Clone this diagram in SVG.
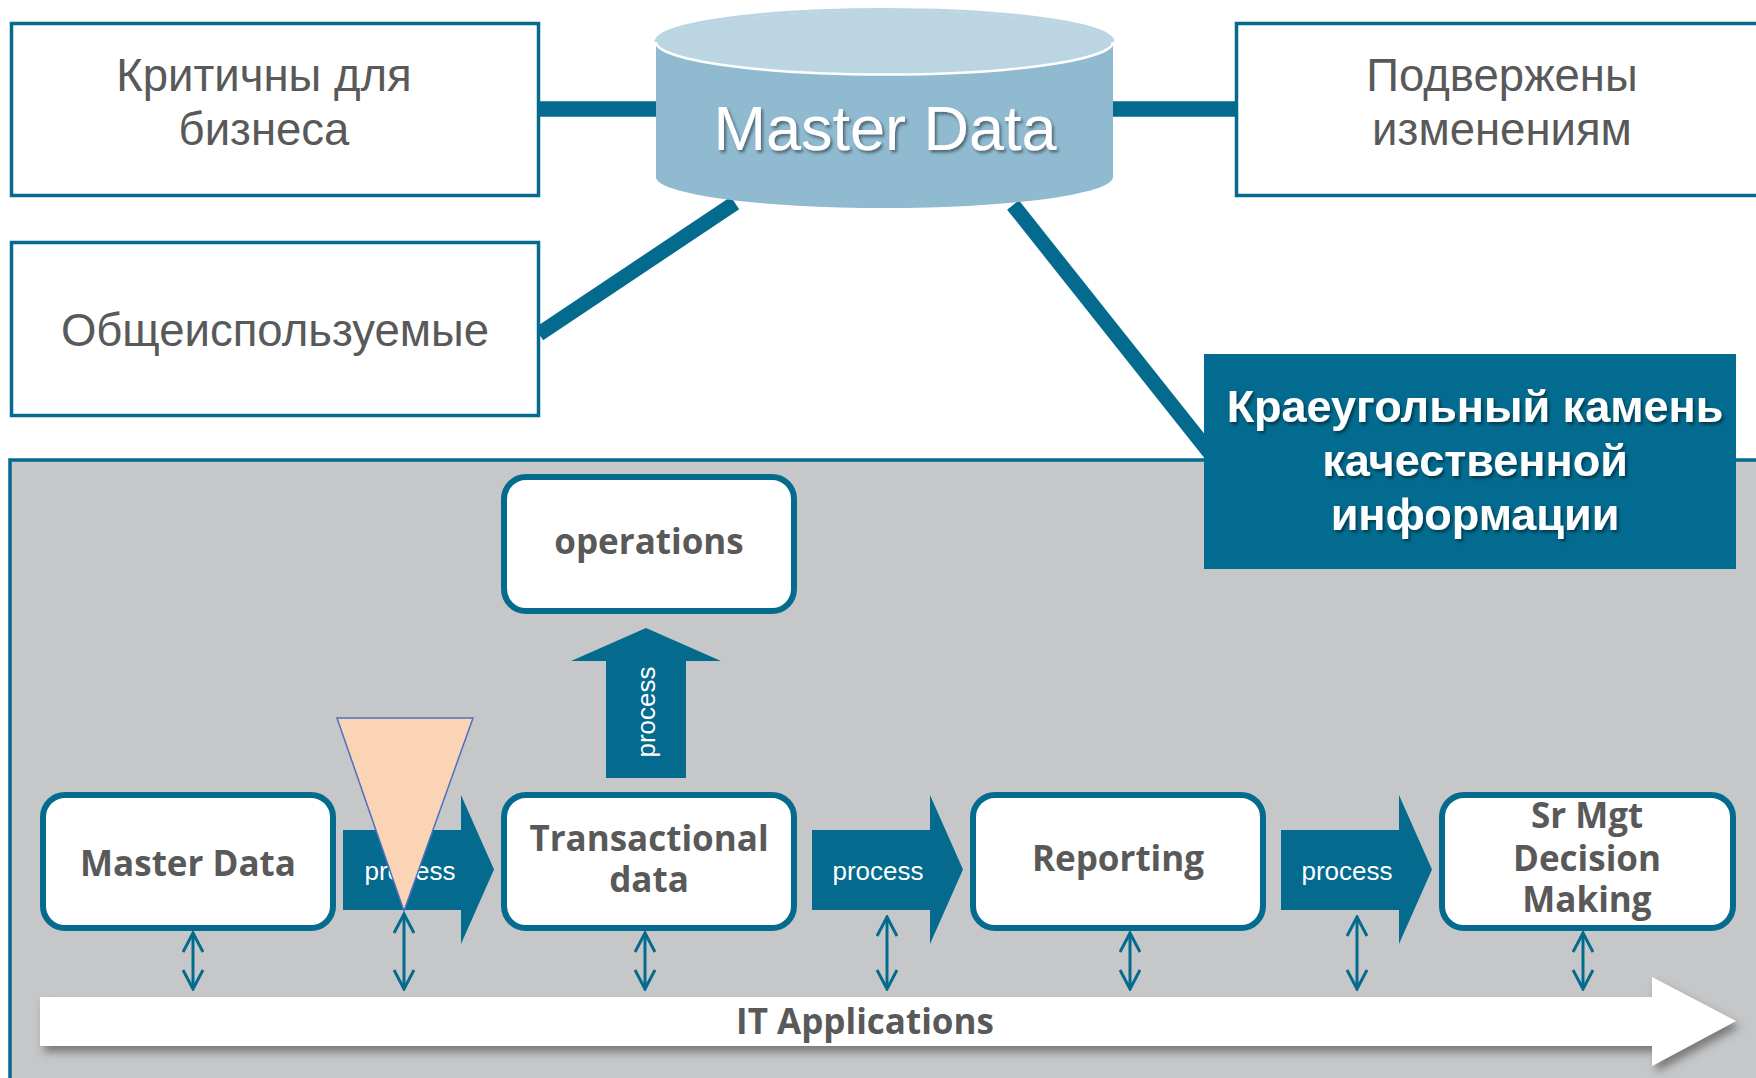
<svg xmlns="http://www.w3.org/2000/svg" width="1756" height="1078" viewBox="0 0 1756 1078">
<style>
.box{fill:#fff;stroke:#046A8E;stroke-width:3.5}
.rbox{fill:#fff;stroke:#046A8E;stroke-width:6}
.ttop{font-family:"Liberation Sans",Arial,sans-serif;font-size:45.5px;fill:#595959;text-anchor:middle}
.tb{font-family:"Open Sans","Liberation Sans",sans-serif;font-weight:bold;font-size:35px;fill:#595959;text-anchor:middle}
.tp{font-family:"Liberation Sans",Arial,sans-serif;font-size:26px;fill:#fff;text-anchor:middle}
.tw{font-family:"Liberation Sans",Arial,sans-serif;font-weight:bold;font-size:45px;fill:#fff;text-anchor:middle}
.conn{stroke:#046A8E;stroke-width:15;fill:none}
.teal{fill:#046A8E}
.dbl{stroke:#046A8E;stroke-width:3;fill:none}
</style>
<defs>
<marker id="v" viewBox="0 0 22 22" refX="20" refY="11" markerWidth="22" markerHeight="22" markerUnits="userSpaceOnUse" orient="auto-start-reverse">
<path d="M1,1 L20,11 L1,21" fill="none" stroke="#046A8E" stroke-width="3"/>
</marker>
<filter id="ts" x="-10%" y="-20%" width="120%" height="150%">
<feDropShadow dx="2" dy="2.5" stdDeviation="1.5" flood-color="#000" flood-opacity="0.45"/>
</filter>
<filter id="as" x="-5%" y="-30%" width="110%" height="180%">
<feDropShadow dx="4" dy="6" stdDeviation="4" flood-color="#444" flood-opacity="0.6"/>
</filter>
</defs>

<g id="connectors">
<line class="conn" x1="538" y1="109" x2="660" y2="109" style="stroke-width:15.5"/>
<line class="conn" x1="1108" y1="109" x2="1238" y2="109" style="stroke-width:15.5"/>
<line class="conn" x1="735" y1="203" x2="539" y2="334"/>
<line class="conn" x1="1013" y1="205" x2="1214" y2="458"/>
</g>

<g id="panel">
<rect x="10" y="460" width="1770" height="640" fill="#C6C7C9" stroke="#046A8E" stroke-width="3.5"/>
</g>

<g id="box-critical">
<rect class="box" x="11.5" y="23.5" width="527" height="172"/>
<text class="ttop" x="264" y="91">Критичны для</text>
<text class="ttop" x="264" y="145">бизнеса</text>
</g>

<g id="box-common">
<rect class="box" x="11.5" y="242.5" width="527" height="173"/>
<text class="ttop" x="275" y="346">Общеиспользуемые</text>
</g>

<g id="box-changes">
<rect class="box" x="1236.5" y="23.5" width="600" height="172"/>
<text class="ttop" x="1502" y="91">Подвержены</text>
<text class="ttop" x="1502" y="145">изменениям</text>
</g>

<g id="master-data-db">
<path d="M656,42 L656,177 A228.5,31 0 0 0 1113,177 L1113,42 Z" fill="#8FBAD0"/>
<ellipse cx="884.5" cy="42" rx="228.5" ry="32.5" fill="#BBD6E2" stroke="#fff" stroke-width="2.5"/>
<path d="M656,42 A228.5,32.5 0 0 1 1113,42" fill="none" stroke="#BBD6E2" stroke-width="3"/>
<text x="885" y="150" filter="url(#ts)" style="font-family:'Liberation Sans',Arial,sans-serif;font-size:63px;fill:#fff;text-anchor:middle">Master Data</text>
</g>

<g id="cornerstone">
<rect x="1204" y="354" width="532" height="215" fill="#036B8F"/>
<g filter="url(#ts)">
<text class="tw" x="1475" y="422">Краеугольный камень</text>
<text class="tw" x="1475" y="476">качественной</text>
<text class="tw" x="1475" y="530">информации</text>
</g>
</g>

<g id="operations">
<rect class="rbox" x="504" y="477" width="290" height="134" rx="22"/>
<text class="tb" x="649" y="554">operations</text>
</g>

<g id="arrow-up-process">
<polygon class="teal" points="606,778 606,661 571,661 646,628 721,661 686,661 686,778"/>
<text class="tp" transform="translate(655,712) rotate(-90)">process</text>
</g>

<g id="arrow-process-1">
<polygon class="teal" points="343,830 461,830 461,795 494,869.5 461,944 461,910 343,910"/>
<text class="tp" x="410" y="880">process</text>
</g>

<g id="arrow-process-2">
<polygon class="teal" points="812,830 930,830 930,795 963,869.5 930,944 930,910 812,910"/>
<text class="tp" x="878" y="880">process</text>
</g>

<g id="arrow-process-3">
<polygon class="teal" points="1281,830 1399,830 1399,795 1432,869.5 1399,944 1399,910 1281,910"/>
<text class="tp" x="1347" y="880">process</text>
</g>

<g id="master-data">
<rect class="rbox" x="43" y="795" width="290" height="133" rx="22"/>
<text class="tb" x="188" y="876">Master Data</text>
</g>

<g id="transactional">
<rect class="rbox" x="504" y="795" width="290" height="133" rx="22"/>
<text class="tb" x="649" y="851">Transactional</text>
<text class="tb" x="649" y="892">data</text>
</g>

<g id="reporting">
<rect class="rbox" x="973" y="795" width="290" height="133" rx="22"/>
<text class="tb" x="1118" y="871">Reporting</text>
</g>

<g id="decision">
<rect class="rbox" x="1442" y="795" width="291" height="133" rx="22"/>
<text class="tb" x="1587" y="828">Sr Mgt</text>
<text class="tb" x="1587" y="871">Decision</text>
<text class="tb" x="1587" y="912">Making</text>
</g>

<g id="triangle">
<polygon points="337,718 473,718 404,911" fill="#FBD4B5" stroke="#4A72C0" stroke-width="1.5"/>
</g>

<g id="it-applications">
<polygon points="40,997 1652,997 1652,977 1736,1021 1652,1066 1652,1046 40,1046" fill="#fff" filter="url(#as)"/>
<text class="tb" x="865" y="1034">IT Applications</text>
</g>

<g id="links">
<line class="dbl" x1="193" y1="933" x2="193" y2="989" marker-start="url(#v)" marker-end="url(#v)"/>
<line class="dbl" x1="404" y1="914" x2="404" y2="989" marker-start="url(#v)" marker-end="url(#v)"/>
<line class="dbl" x1="645" y1="933" x2="645" y2="989" marker-start="url(#v)" marker-end="url(#v)"/>
<line class="dbl" x1="887" y1="917" x2="887" y2="989" marker-start="url(#v)" marker-end="url(#v)"/>
<line class="dbl" x1="1130" y1="933" x2="1130" y2="989" marker-start="url(#v)" marker-end="url(#v)"/>
<line class="dbl" x1="1357" y1="917" x2="1357" y2="989" marker-start="url(#v)" marker-end="url(#v)"/>
<line class="dbl" x1="1583" y1="933" x2="1583" y2="989" marker-start="url(#v)" marker-end="url(#v)"/>
</g>
</svg>
